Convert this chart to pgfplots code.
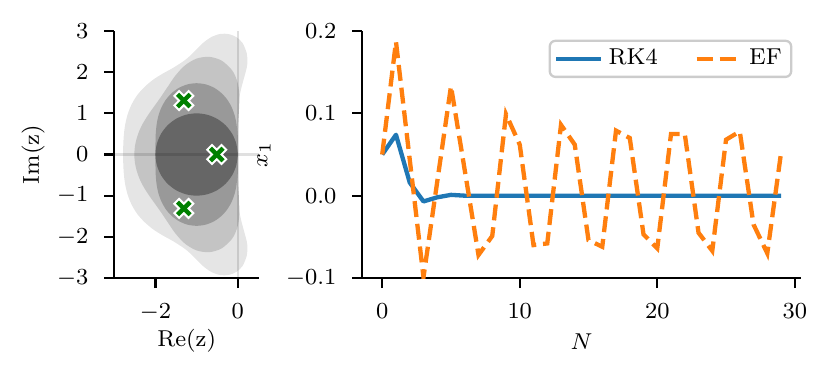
\documentclass[border=0pt]{standalone}
\usepackage{pgfplots}
\pgfplotsset{compat=1.18}

\definecolor{mplblue}{HTML}{1F77B4}
\definecolor{mplorange}{HTML}{FF7F0E}
\definecolor{mplgreen}{HTML}{008000}
\definecolor{regfour}{HTML}{E5E5E5}
\definecolor{regthree}{HTML}{C4C4C4}
\definecolor{regtwo}{HTML}{999999}
\definecolor{regone}{HTML}{666666}

% filled "X" marker (plus rotated by 45 degrees)
\pgfdeclareplotmark{Xfill}{%
  \pgftransformrotate{45}%
  \pgfpathmoveto{\pgfqpoint{-0.3333\pgfplotmarksize}{-\pgfplotmarksize}}%
  \pgfpathlineto{\pgfqpoint{0.3333\pgfplotmarksize}{-\pgfplotmarksize}}%
  \pgfpathlineto{\pgfqpoint{0.3333\pgfplotmarksize}{-0.3333\pgfplotmarksize}}%
  \pgfpathlineto{\pgfqpoint{\pgfplotmarksize}{-0.3333\pgfplotmarksize}}%
  \pgfpathlineto{\pgfqpoint{\pgfplotmarksize}{0.3333\pgfplotmarksize}}%
  \pgfpathlineto{\pgfqpoint{0.3333\pgfplotmarksize}{0.3333\pgfplotmarksize}}%
  \pgfpathlineto{\pgfqpoint{0.3333\pgfplotmarksize}{\pgfplotmarksize}}%
  \pgfpathlineto{\pgfqpoint{-0.3333\pgfplotmarksize}{\pgfplotmarksize}}%
  \pgfpathlineto{\pgfqpoint{-0.3333\pgfplotmarksize}{0.3333\pgfplotmarksize}}%
  \pgfpathlineto{\pgfqpoint{-\pgfplotmarksize}{0.3333\pgfplotmarksize}}%
  \pgfpathlineto{\pgfqpoint{-\pgfplotmarksize}{-0.3333\pgfplotmarksize}}%
  \pgfpathlineto{\pgfqpoint{-0.3333\pgfplotmarksize}{-0.3333\pgfplotmarksize}}%
  \pgfpathclose
  \pgfusepathqfillstroke
}

\pgfplotstableread{
N rk4 ef
0 0.050 0.050
1 0.074 0.187
2 0.016 0.044
3 -0.007 -0.099
4 -0.002 0.017
5 0.001 0.133
6 0.000 0.031
7 0.000 -0.072
8 0.000 -0.049
9 0.000 0.099
10 0.000 0.062
11 0.000 -0.060
12 0.000 -0.058
13 0.000 0.086
14 0.000 0.062
15 0.000 -0.054
16 0.000 -0.062
17 0.000 0.079
18 0.000 0.070
19 0.000 -0.047
20 0.000 -0.064
21 0.000 0.075
22 0.000 0.075
23 0.000 -0.045
24 0.000 -0.067
25 0.000 0.068
26 0.000 0.078
27 0.000 -0.035
28 0.000 -0.070
29 0.000 0.052
}\series

\begin{document}
\begin{tikzpicture}[font=\fontsize{8}{9.6}\selectfont]
\path[use as bounding box] (0,0) rectangle (289.2pt,131.9pt);
\pgfplotsset{
  despined/.style={
    scale only axis,
    axis x line*=bottom, axis y line*=left,
    axis line style={-, line width=0.8pt, black},
    tick align=outside,
    major tick length=3.5pt,
    major tick style={black, line width=0.8pt},
    minor tick num=0,
    tick label style={font=\fontsize{8}{9.6}\selectfont},
    xticklabel style={yshift=-2pt},
    yticklabel style={xshift=-2pt},
    label style={font=\fontsize{8}{9.6}\selectfont},
  }
}

% stability regions
\begin{axis}[despined,
    at={(39.78pt,35.15pt)}, anchor=south west,
    width=50.4pt, height=85.96pt,
    xmin=-3, xmax=0.52, ymin=-3, ymax=3,
    xtick={-2,0}, ytick={-3,-2,-1,0,1,2,3},
    xlabel={Re(z)}, ylabel={Im(z)},
    xlabel style={at={(axis description cs:0.5,-0.252)}, anchor=center},
    ylabel style={at={(axis description cs:-0.561,0.5)}, anchor=center},
]
% RK4
\addplot[draw=none, fill=regfour, smooth] coordinates {
(0,0) (0,0.131) (0,0.267) (0,0.414) (0.0003,0.578) (0.0014,0.768) (0.0065,1.007)
(0.034,1.348) (0.092,1.634) (0.219,2.112) (0.237,2.326) (0.217,2.468) (0.120,2.704)
(-0.033,2.851) (-0.216,2.924) (-0.417,2.930) (-0.623,2.863) (-0.821,2.729) (-1.000,2.557)
(-1.157,2.400) (-1.300,2.280) (-1.565,2.108) (-1.816,1.969) (-2.051,1.821) (-2.262,1.644)
(-2.443,1.443) (-2.581,1.213) (-2.678,0.969) (-2.737,0.719) (-2.768,0.474) (-2.782,0.235)
(-2.785,0)
(-2.782,-0.235) (-2.768,-0.474) (-2.737,-0.719) (-2.678,-0.969) (-2.581,-1.213)
(-2.443,-1.443) (-2.262,-1.644) (-2.051,-1.821) (-1.816,-1.969) (-1.565,-2.108)
(-1.300,-2.280) (-1.157,-2.400) (-1.000,-2.557) (-0.821,-2.729) (-0.623,-2.863)
(-0.417,-2.930) (-0.216,-2.924) (-0.033,-2.851) (0.120,-2.704) (0.217,-2.468)
(0.237,-2.326) (0.219,-2.112) (0.092,-1.634) (0.034,-1.348) (0.0065,-1.007)
(0.0014,-0.768) (0.0003,-0.578) (0,-0.414) (0,-0.267) (0,-0.131) (0,0)
};
% RK3
\addplot[draw=none, fill=regthree, smooth] coordinates {
(0,0) (0,0.131) (0.0002,0.268) (0.0011,0.415) (0.0042,0.580) (0.0116,0.776) (0.0266,1.027)
(0.0404,1.356) (0.0317,1.544) (0,1.732) (-0.060,1.907) (-0.147,2.059) (-0.389,2.280)
(-0.688,2.372) (-1.000,2.330) (-1.285,2.163) (-1.514,1.918) (-1.689,1.664) (-1.835,1.446)
(-1.966,1.259) (-2.089,1.089) (-2.203,0.923) (-2.306,0.754) (-2.392,0.576) (-2.457,0.391)
(-2.499,0.197) (-2.513,0)
(-2.499,-0.197) (-2.457,-0.391) (-2.392,-0.576) (-2.306,-0.754) (-2.203,-0.923)
(-2.089,-1.089) (-1.966,-1.259) (-1.835,-1.446) (-1.689,-1.664) (-1.514,-1.918)
(-1.285,-2.163) (-1.000,-2.330) (-0.688,-2.372) (-0.389,-2.280) (-0.147,-2.059)
(-0.060,-1.907) (0,-1.732) (0.0317,-1.544) (0.0404,-1.356) (0.0266,-1.027)
(0.0116,-0.776) (0.0042,-0.580) (0.0011,-0.415) (0.0002,-0.268) (0,-0.131) (0,0)
};
% RK2
\addplot[draw=none, fill=regtwo, smooth] coordinates {
(0,0) (0,0.132) (-0.0006,0.268) (-0.0033,0.413) (-0.0116,0.571) (-0.0308,0.744)
(-0.069,0.931) (-0.137,1.125) (-0.241,1.314) (-0.386,1.483) (-0.567,1.617) (-0.776,1.703)
(-1,1.732) (-1.224,1.703) (-1.433,1.617) (-1.614,1.483) (-1.759,1.314) (-1.863,1.125)
(-1.931,0.931) (-1.969,0.744) (-1.988,0.571) (-1.997,0.413) (-1.999,0.268) (-2,0.132)
(-2,0)
(-2,-0.132) (-1.999,-0.268) (-1.997,-0.413) (-1.988,-0.571) (-1.969,-0.744)
(-1.931,-0.931) (-1.863,-1.125) (-1.759,-1.314) (-1.614,-1.483) (-1.433,-1.617)
(-1.224,-1.703) (-1,-1.732) (-0.776,-1.703) (-0.567,-1.617) (-0.386,-1.483)
(-0.241,-1.314) (-0.137,-1.125) (-0.069,-0.931) (-0.0308,-0.744) (-0.0116,-0.571)
(-0.0033,-0.413) (-0.0006,-0.268) (0,-0.132) (0,0)
};
% explicit Euler
\addplot[draw=none, fill=regone, smooth] coordinates {
(0,0) (-0.0341,0.2588) (-0.134,0.5) (-0.2929,0.7071) (-0.5,0.866) (-0.7412,0.9659)
(-1,1) (-1.2588,0.9659) (-1.5,0.866) (-1.7071,0.7071) (-1.866,0.5) (-1.9659,0.2588)
(-2,0) (-1.9659,-0.2588) (-1.866,-0.5) (-1.7071,-0.7071) (-1.5,-0.866) (-1.2588,-0.9659)
(-1,-1) (-0.7412,-0.9659) (-0.5,-0.866) (-0.2929,-0.7071) (-0.134,-0.5) (-0.0341,-0.2588)
(0,0)
};
% reference lines
\addplot[black, opacity=0.12, line width=0.8pt] coordinates {(-3,0) (0.52,0)};
\addplot[black, opacity=0.12, line width=0.8pt] coordinates {(0,-3) (0,3)};
% eigenvalues
\addplot[only marks, mark=Xfill, mark size=3.5pt,
  mark options={fill=mplgreen, draw=white, line width=0.7pt}]
  coordinates {(-1.31,1.31) (-0.51,0) (-1.31,-1.31)};
\end{axis}

% time series
\begin{axis}[despined,
    at={(126.08pt,35.15pt)}, anchor=south west,
    width=152.67pt, height=85.96pt,
    xmin=-1.45, xmax=30.45, ymin=-0.1, ymax=0.2,
    xtick={0,10,20,30}, ytick={-0.1,0,0.1,0.2},
    scaled y ticks=false,
    yticklabel style={/pgf/number format/.cd, fixed, fixed zerofill, precision=1},
    xlabel={$N$}, ylabel={$x_1$},
    xlabel style={at={(axis description cs:0.5,-0.256)}, anchor=center},
    ylabel style={at={(axis description cs:-0.224,0.5)}, anchor=center},
    legend columns=2,
    legend style={at={(1,1)}, anchor=north east, xshift=-3pt, yshift=-3pt,
      draw=black!20, line width=0.8pt, rounded corners=2pt,
      fill=white, fill opacity=0.8, text opacity=1,
      inner xsep=1.5pt, inner ysep=0.8pt,
      nodes={inner xsep=1.8pt, inner ysep=2pt},
      font=\fontsize{8}{9.6}\selectfont,
      /tikz/every even column/.append style={column sep=11pt}},
    legend image code/.code={\draw[#1] (0pt,0pt) -- (15.7pt,0pt);},
]
\addplot[mplblue, line width=1.5pt, line join=round] table[x=N, y=rk4] {\series};
\addlegendentry{RK4}
\addplot[mplorange, line width=1.5pt, dash pattern=on 5.55pt off 2.4pt] table[x=N, y=ef] {\series};
\addlegendentry{EF}
\end{axis}
\end{tikzpicture}
\end{document}
